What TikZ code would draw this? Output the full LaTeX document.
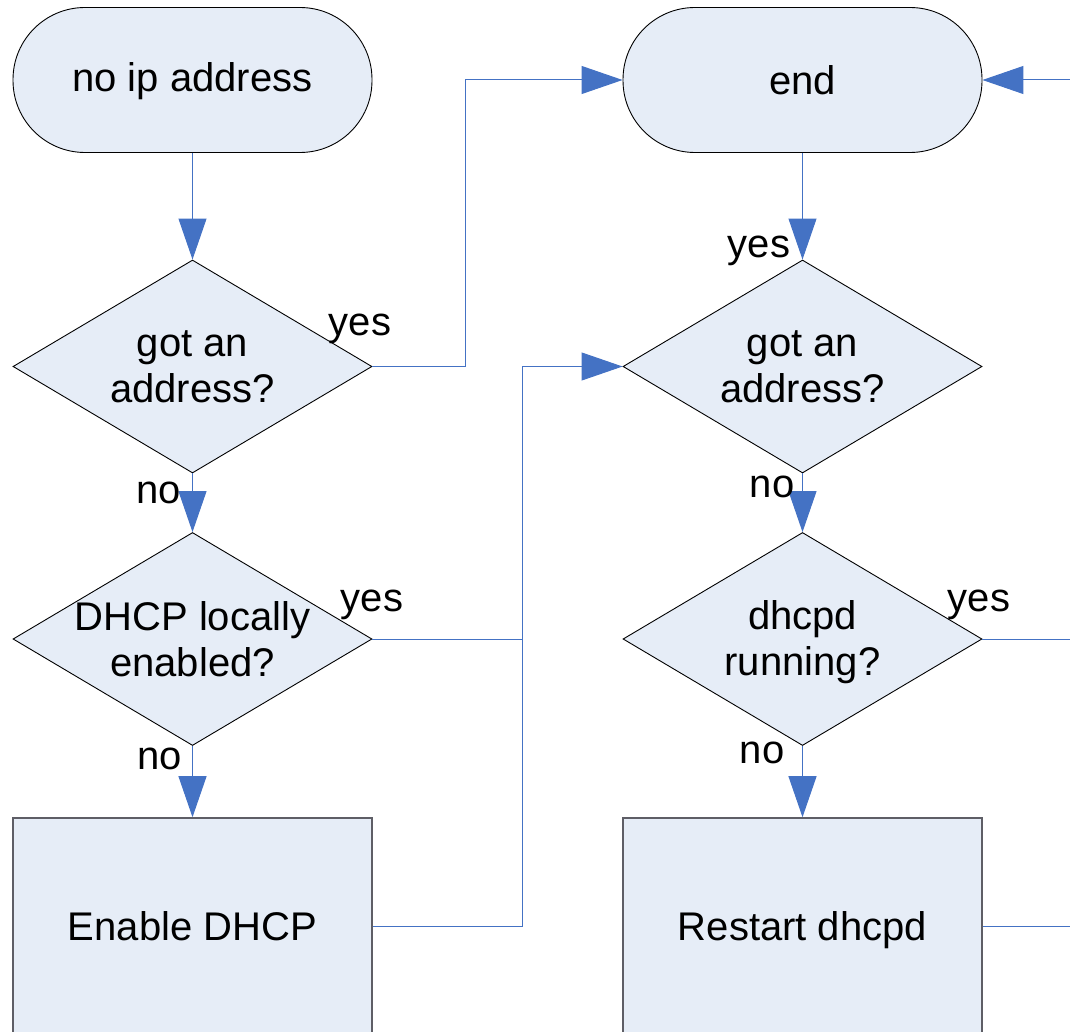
\documentclass[tikz,border=0pt]{standalone}
\usepackage{fontspec}
\setmainfont{Liberation Sans}
\usetikzlibrary{arrows.meta,shapes.geometric}
\definecolor{shapefill}{HTML}{E6EDF7}
\definecolor{flowblue}{HTML}{4472C4}
\definecolor{boxedge}{HTML}{5E5E66}
\begin{document}
\begin{tikzpicture}[x=1pt,y=-1pt,
  every node/.style={font=\fontsize{40}{46}\selectfont},
  terminal/.style={draw=black, fill=shapefill, line width=0.9pt,
    rounded corners=72pt, minimum width=359pt, minimum height=145pt, inner sep=0pt},
  decision/.style={diamond, draw=black, fill=shapefill, line width=0.9pt,
    aspect=1.685, minimum width=359pt, minimum height=213pt, inner sep=0pt},
  process/.style={rectangle, draw=boxedge, fill=shapefill, line width=1.6pt,
    minimum width=359pt, minimum height=216pt, inner sep=0pt,
    text height=28pt, text depth=0pt},
  caption/.style={align=center, inner sep=0pt},
  lbl/.style={anchor=base, inner sep=0pt},
  link/.style={draw=flowblue, line width=1pt},
  flow/.style={link, -{Triangle[length=41pt,width=28pt]}},
]
\useasboundingbox (0,0) rectangle (1070,1032);
\clip (0,0) rectangle (1070,1032);

% left column
\node[terminal, text height=28pt, text depth=4pt] (start) at (192.5,80) {no ip address};
\node[decision] (d1) at (192.5,366.5) {};
\node[caption] (d1t) at (d1) {got an\\address?};
\node[decision] (d2) at (192.5,639) {};
\node[caption] (d2t) at (d2) {DHCP locally\\enabled?};
\node[process] (enable) at (192.5,926) {Enable DHCP};

% right column
\node[terminal] (end) at (802.5,80) {end};
\node[decision] (d3) at (802.5,366.5) {};
\node[caption] (d3t) at (d3) {got an\\address?};
\node[decision] (d4) at (802.5,639) {};
\node[caption] (d4t) at ([yshift=-3pt]d4.center) {dhcpd\\running?};
\node[process] (restart) at (802.5,926) {Restart dhcpd};

% routing points
\coordinate (j1) at (465,80);
\coordinate (j3) at (522,366.5);
\coordinate (r1) at (1075,80);
\coordinate (r2) at (1075,639);
\coordinate (r3) at (1075,926);

% connectors, left column
\draw[flow] (start.south) -- (d1.north);
\draw[flow] (d1.south) -- (d2.north);
\draw[flow] (d2.south) -- (enable.north);
\draw[flow] (d1.east) -| (j1) -- (end.west);
\draw[link] (d2.east) -- (d2.east -| j3);
\draw[flow] (enable.east) -| (j3) -- (d3.west);

% connectors, right column
\draw[flow] (end.south) -- (d3.north);
\draw[flow] (d3.south) -- (d4.north);
\draw[flow] (d4.south) -- (restart.north);
\draw[link] (d4.east) -- (r2);
\draw[link] (restart.east) -- (r3);
\draw[flow] (r1) -- (end.east);

% branch labels
\node[lbl] (y1) at (360,335) {yes};
\node[lbl] (n1) at (159,503) {no};
\node[lbl] (y2) at (372,611) {yes};
\node[lbl] (n2) at (160,769) {no};
\node[lbl] (y3) at (759,258) {yes};
\node[lbl] (n3) at (772,497) {no};
\node[lbl] (y4) at (979,611) {yes};
\node[lbl] (n4) at (762,763) {no};
\end{tikzpicture}
\end{document}
